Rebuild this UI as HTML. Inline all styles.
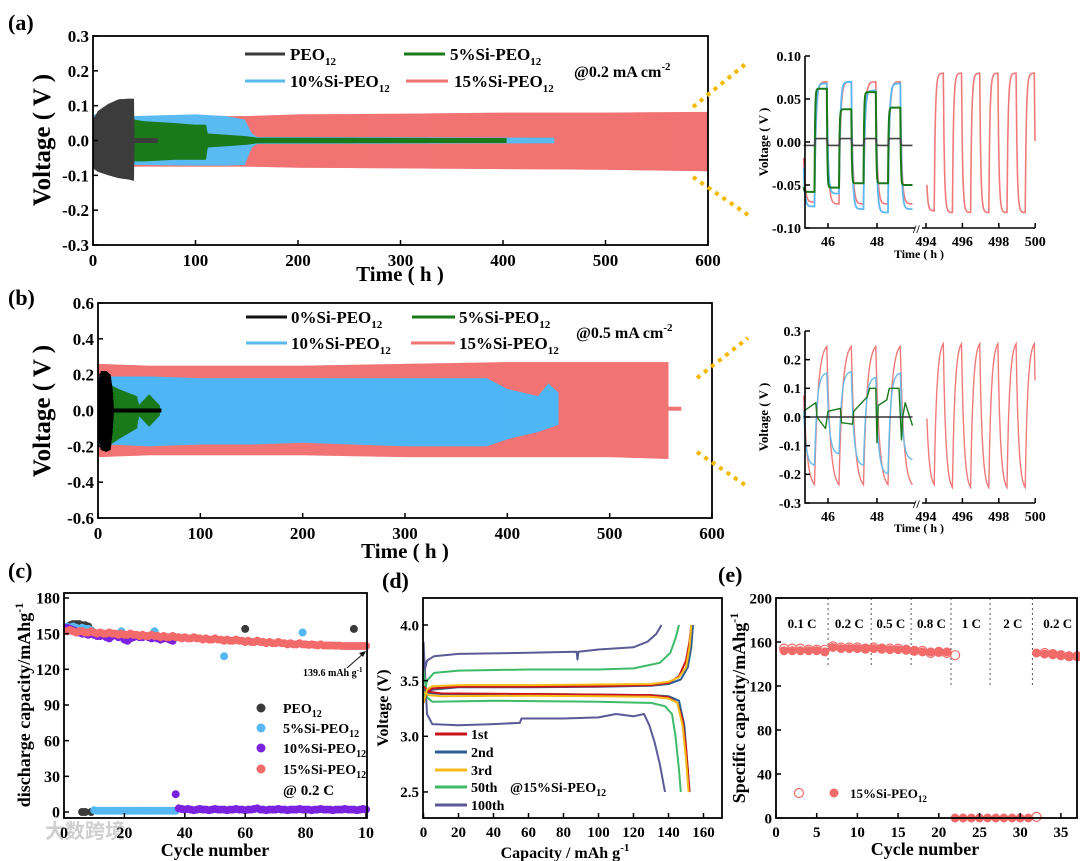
<!DOCTYPE html>
<html><head><meta charset="utf-8">
<style>
html,body{margin:0;padding:0;background:#fff;}
svg{display:block;font-family:"Liberation Serif","Noto Serif CJK SC",serif;font-weight:bold;}
</style></head>
<body>
<svg id="fig" width="1080" height="861" viewBox="0 0 1080 861" xmlns="http://www.w3.org/2000/svg">
<rect x="0" y="0" width="1080" height="861" fill="#fff"/>
<!-- panel labels -->
<text x="8" y="30" font-size="22">(a)</text>
<text x="8" y="305" font-size="22">(b)</text>
<text x="8" y="578" font-size="22">(c)</text>
<text x="382" y="588" font-size="22">(d)</text>
<text x="718" y="582" font-size="22">(e)</text>

<!-- axis titles -->
<text transform="translate(50,140) rotate(-90)" text-anchor="middle" font-size="25">Voltage ( V )</text>
<text x="400" y="281" text-anchor="middle" font-size="21">Time ( h )</text>
<text transform="translate(50,411) rotate(-90)" text-anchor="middle" font-size="25">Voltage ( V )</text>
<text x="405" y="558" text-anchor="middle" font-size="21">Time ( h )</text>
<text transform="translate(768,142) rotate(-90)" text-anchor="middle" font-size="13">Voltage ( V )</text>
<text x="919" y="258" text-anchor="middle" font-size="12">Time ( h )</text>
<text transform="translate(768,417) rotate(-90)" text-anchor="middle" font-size="13">Voltage ( V )</text>
<text x="919" y="532" text-anchor="middle" font-size="12">Time ( h )</text>
<text transform="translate(30,705) rotate(-90)" text-anchor="middle" font-size="18">discharge capacity/mAhg<tspan dy="-7" font-size="12">-1</tspan></text>
<text x="215" y="856" text-anchor="middle" font-size="18">Cycle number</text>
<text transform="translate(388,708) rotate(-90)" text-anchor="middle" font-size="16">Voltage (V)</text>
<text x="565" y="858" text-anchor="middle" font-size="16">Capacity / mAh g<tspan dy="-7" font-size="11">-1</tspan></text>
<text transform="translate(745,708) rotate(-90)" text-anchor="middle" font-size="18">Specific capacity/mAhg<tspan dy="-7" font-size="12">-1</tspan></text>
<text x="925" y="855" text-anchor="middle" font-size="18">Cycle number</text>

<text x="45" y="838" font-size="20" fill="#cfcfcf" font-family="'Noto Sans CJK SC',sans-serif">大数跨境</text>

<g id="plots"></g>

<!-- legends a -->
<g font-size="17">
<line x1="245" y1="54" x2="285" y2="54" stroke="#3a3a3a" stroke-width="3"/>
<text x="290" y="60">PEO<tspan dy="5" font-size="11">12</tspan></text>
<line x1="404" y1="54" x2="445" y2="54" stroke="#1a7a1a" stroke-width="3"/>
<text x="450" y="60">5%Si-PEO<tspan dy="5" font-size="11">12</tspan></text>
<line x1="245" y1="81" x2="285" y2="81" stroke="#5bb8f0" stroke-width="3"/>
<text x="290" y="87">10%Si-PEO<tspan dy="5" font-size="11">12</tspan></text>
<line x1="406" y1="81" x2="448" y2="81" stroke="#f07272" stroke-width="3"/>
<text x="454" y="87">15%Si-PEO<tspan dy="5" font-size="11">12</tspan></text>
<text x="574" y="77" font-size="16">@0.2 mA cm<tspan dy="-7" font-size="11">-2</tspan></text>
</g>
<g font-size="17">
<line x1="246" y1="317" x2="287" y2="317" stroke="#111" stroke-width="3"/>
<text x="291" y="323">0%Si-PEO<tspan dy="5" font-size="11">12</tspan></text>
<line x1="412" y1="317" x2="455" y2="317" stroke="#1a7a1a" stroke-width="3"/>
<text x="459" y="323">5%Si-PEO<tspan dy="5" font-size="11">12</tspan></text>
<line x1="246" y1="343" x2="287" y2="343" stroke="#5bb8f0" stroke-width="3"/>
<text x="291" y="349">10%Si-PEO<tspan dy="5" font-size="11">12</tspan></text>
<line x1="411" y1="343" x2="455" y2="343" stroke="#f07272" stroke-width="3"/>
<text x="459" y="349">15%Si-PEO<tspan dy="5" font-size="11">12</tspan></text>
<text x="576" y="338" font-size="16">@0.5 mA cm<tspan dy="-7" font-size="11">-2</tspan></text>
</g>
<!-- zoom connectors -->
<g stroke="#f5b800" stroke-width="4" stroke-dasharray="4 5">
<line x1="693" y1="107" x2="748" y2="62"/>
<line x1="693" y1="177" x2="748" y2="215"/>
<line x1="697" y1="378" x2="748" y2="338"/>
<line x1="697" y1="452" x2="748" y2="487"/>
</g>
<!-- legend c -->
<g font-size="14">
<circle cx="261" cy="708" r="4.5" fill="#3a3a3a"/>
<text x="283" y="713">PEO<tspan dy="4" font-size="10">12</tspan></text>
<circle cx="261" cy="728" r="4.5" fill="#55b8f2"/>
<text x="283" y="733">5%Si-PEO<tspan dy="4" font-size="10">12</tspan></text>
<circle cx="261" cy="748" r="4.5" fill="#7a22e0"/>
<text x="283" y="753">10%Si-PEO<tspan dy="4" font-size="10">12</tspan></text>
<circle cx="261" cy="769" r="4.5" fill="#f26a6a"/>
<text x="283" y="774">15%Si-PEO<tspan dy="4" font-size="10">12</tspan></text>
<text x="283" y="795" font-size="15">@ 0.2 C</text>
<text x="303" y="676" font-size="10">139.6 mAh g<tspan dy="-4" font-size="7">-1</tspan></text>
<line x1="347" y1="668" x2="364" y2="653" stroke="#111" stroke-width="1"/>
<path d="M366,651 L359,653 L363,657 Z" fill="#111"/>
</g>
<!-- legend d -->
<g font-size="14">
<line x1="435" y1="734" x2="467" y2="734" stroke="#c8141a" stroke-width="3"/>
<text x="471" y="739">1st</text>
<line x1="435" y1="752" x2="467" y2="752" stroke="#2d5f94" stroke-width="3"/>
<text x="471" y="757">2nd</text>
<line x1="435" y1="770" x2="467" y2="770" stroke="#f5bb18" stroke-width="3"/>
<text x="471" y="775">3rd</text>
<line x1="435" y1="787" x2="467" y2="787" stroke="#3dbb68" stroke-width="3"/>
<text x="471" y="792">50th</text>
<line x1="435" y1="805" x2="467" y2="805" stroke="#5a5a96" stroke-width="3"/>
<text x="471" y="810">100th</text>
<text x="510" y="792">@15%Si-PEO<tspan dy="4" font-size="10">12</tspan></text>
</g>
<!-- legend e -->
<g font-size="13">
<circle cx="799" cy="793" r="4.5" fill="none" stroke="#f26a6a" stroke-width="1.2"/>
<circle cx="834" cy="793" r="4.5" fill="#f26a6a"/>
<text x="850" y="798">15%Si-PEO<tspan dy="4" font-size="9">12</tspan></text>
</g>
</svg>
<script>
// ===== Panel (a) data =====
const aRedT=[0,100,150,200,300,400,500,600];
const aRedHi=[0.07,0.07,0.07,0.075,0.077,0.08,0.08,0.082];
const aRedLo=[-0.075,-0.075,-0.075,-0.078,-0.08,-0.082,-0.084,-0.088];
const aBlueT=[0,40,100,130,148,155,160,450];
const aBlueHi=[0.075,0.07,0.075,0.07,0.06,0.02,0.01,0.008];
const aBlueLo=[-0.075,-0.07,-0.072,-0.072,-0.07,-0.02,-0.01,-0.008];
const aGreenT=[40,50,80,100,110,112,150,160,403];
const aGreenHi=[0.06,0.055,0.05,0.045,0.045,0.02,0.012,0.008,0.007];
const aGreenLo=[-0.06,-0.06,-0.055,-0.055,-0.055,-0.02,-0.012,-0.008,-0.007];
const aBlackT=[0,5,15,25,35,39,40,40.5,63];
const aBlackHi=[0.06,0.085,0.105,0.118,0.12,0.12,0.12,0.007,0.007];
const aBlackLo=[-0.08,-0.09,-0.1,-0.108,-0.112,-0.115,-0.115,-0.007,-0.007];
const aXTicks=[0,100,200,300,400,500,600];
const aYTicks=[-0.3,-0.2,-0.1,0,0.1,0.2,0.3];
const aYLabels=['-0.3','-0.2','-0.1','0.0','0.1','0.2','0.3'];
// ===== Panel (b) data =====
const bRedT=[0,50,100,200,300,400,500,555,557];
const bRedHi=[0.26,0.25,0.25,0.25,0.26,0.27,0.27,0.27,0.27];
const bRedLo=[-0.26,-0.25,-0.25,-0.25,-0.26,-0.26,-0.26,-0.27,-0.27];
const bRedTailT=[557,570];
const bRedTailV=[0.01,0.01];
const bBlueT=[0,10,50,100,150,200,300,380,400,430,440,450];
const bBlueHi=[0.2,0.19,0.19,0.18,0.18,0.18,0.18,0.18,0.12,0.08,0.15,0.1];
const bBlueLo=[-0.2,-0.19,-0.2,-0.19,-0.19,-0.18,-0.2,-0.2,-0.16,-0.12,-0.1,-0.08];
const bGreenT=[5,10,20,38,40,50,60];
const bGreenHi=[0.15,0.15,0.12,0.08,0.03,0.09,0.03];
const bGreenLo=[-0.15,-0.2,-0.16,-0.1,-0.03,-0.09,-0.03];
const bBlackT=[0,3,8,12,14,15];
const bBlackHi=[0.15,0.22,0.22,0.2,0.12,0.03];
const bBlackLo=[-0.15,-0.22,-0.23,-0.22,-0.12,-0.03];
const bBlackTailT=[15,62];
const bBlackTailV=[0,0];
const bXTicks=[0,100,200,300,400,500,600];
const bYTicks=[-0.6,-0.4,-0.2,0,0.2,0.4,0.6];
const bYLabels=['-0.6','-0.4','-0.2','0.0','0.2','0.4','0.6'];
// ===== Insets: half-cycle peak voltages (half period 0.5 h) =====
const insStart=44.95;
const insStartR=493.95;
const iaRed=[-0.07,0.07,-0.072,0.07,-0.072,0.07,-0.072,0.07,-0.072,0.07];
const iaBlue=[-0.075,0.068,-0.06,0.07,-0.078,0.06,-0.082,0.068,-0.078,0.07];
const iaGreen=[-0.058,0.062,-0.053,0.038,-0.048,0.058,-0.048,0.04,-0.05,0.056];
const iaBlack=[-0.004,0.004,-0.004,0.004,-0.004,0.004,-0.004,0.004,-0.004,0.004];
const iaRedR=[-0.08,0.08,-0.082,0.08,-0.082,0.08,-0.082,0.08,-0.082,0.08,-0.082,0.08,-0.082];
const ibRed=[-0.25,0.26,-0.25,0.26,-0.25,0.26,-0.25,0.26,-0.25,0.26];
const ibBlue=[-0.17,0.155,-0.13,0.16,-0.17,0.14,-0.2,0.155,-0.15,0.165];
const ibRedR=[-0.25,0.27,-0.26,0.27,-0.26,0.27,-0.26,0.27,-0.26,0.27,-0.26,0.27,-0.26];
const ibGreenT=[45,45.5,45.55,45.9,46.0,46.5,46.55,47,47.05,47.6,47.7,47.95,48.0,48.05,48.4,48.5,48.9,49.0,49.05,49.15,49.45];
const ibGreenV=[0.02,0.05,0.0,-0.04,0.02,0.03,-0.02,-0.025,0.02,0.07,0.1,0.1,-0.09,0.04,0.06,0.1,0.1,-0.08,0.0,0.05,-0.03];
const ibBlackT=[45,49.45];
const ibBlackV=[0,0];
const insXTicksL=[46,48];
const insXTicksR=[494,496,498,500];
const iaYTicks=[-0.1,-0.05,0,0.05,0.1];
const iaYLabels=['-0.10','-0.05','0.00','0.05','0.10'];
const ibYTicks=[-0.3,-0.2,-0.1,0,0.1,0.2,0.3];
const ibYLabels=['-0.3','-0.2','-0.1','0.0','0.1','0.2','0.3'];
// ===== Panel (c) data =====
const cRed=[152,153,152,151,152,152,151,151,152,151,150,151,150,150,151,150,150,149,150,149,149,150,149,149,148,149,148,148,149,148,148,147,148,147,147,148,147,147,146,147,146,146,147,146,146,145,146,145,145,146,145,145,144,145,144,144,145,144,144,143,144,143,143,144,143,143,142,143,142,142,143,142,142,141,142,141,141,142,141,141,140.5,141,140.5,140,141,140,140,140,140,139.8,140,139.6,139.6,139.6,139.6,139.6,139.6,139.6,139.6,139.6];
const cPurpleHi=[155,154,153,152,151,150,150,149,150,149,148,148,149,147,146,148,149,147,148,145,144,146,147,148,147,147,148,147,146,147,146,145,146,146,145,144];
const cPurpleLow=[15,3,2.5,2,2.5,2,1.5,2,2.5,2,2,1.5,2,2.5,2,2,2,1.5,2,2,2.5,2,2,1.5,2,2,2.5,3,2,2,1.5,2,2,2,2.5,2,2,1.5,2,2,2,2.5,2,2,2,1.5,2,2,2.5,2,2,2,1.5,2,2,2,2.5,2,2,2,1.5,2,2.5,2];
const cBlueN=[1,2,3,4,5,6,7,8,9,19,30,53,79];
const cBlueV=[156,155,156,155,154,155,154,154,153,152,152,131,151];
const cBlueLow=[1.5,1,1,1,1,1,1,1,1,1,1,1,1,1,1,1,1,1,1,1,1,1,1,1,1,1,1,1];
const cBlackN=[2,3,4,5,6,7,8,60,96,6,7,9];
const cBlackV=[157,158,158,158,157,157,156,154,154,0,0,0];
const cXTicks=[0,20,40,60,80,100];
const cXLabels=['0','20','40','60','80','10'];
const cYTicks=[0,30,60,90,120,150,180];
// ===== Panel (d) data =====
const d1cC=[0,2,5,20,60,100,130,140,146,150,152,153];
const d1cV=[3.3,3.4,3.43,3.445,3.445,3.45,3.46,3.48,3.54,3.68,3.85,4.0];
const d1dC=[0,3,10,60,100,130,140,145,148,150,151,152];
const d1dV=[3.45,3.4,3.385,3.38,3.375,3.37,3.35,3.3,3.15,2.9,2.7,2.5];
const d2cC=[0,2,5,20,60,100,130,140,147,151,153,154];
const d2cV=[3.3,3.39,3.42,3.44,3.44,3.445,3.455,3.47,3.51,3.62,3.8,4.0];
const d2dC=[0,3,10,60,100,130,140,146,149,151,152];
const d2dV=[3.42,3.39,3.38,3.38,3.375,3.37,3.36,3.32,3.1,2.7,2.5];
const d3cC=[0,2,5,20,60,100,130,140,146,150,152,153];
const d3cV=[3.3,3.42,3.45,3.46,3.46,3.465,3.47,3.49,3.53,3.62,3.8,4.0];
const d3dC=[0,3,10,60,100,130,140,145,148,150,151.5];
const d3dV=[3.4,3.37,3.36,3.365,3.36,3.355,3.34,3.3,3.1,2.8,2.5];
const d50cC=[0,2,6,20,60,100,120,135,141,144,146];
const d50cV=[3.35,3.5,3.57,3.59,3.6,3.6,3.61,3.66,3.75,3.88,4.0];
const d50dC=[0,2,5,40,100,130,138,142,144,146,147];
const d50dV=[3.6,3.35,3.31,3.32,3.31,3.3,3.27,3.2,3.0,2.7,2.5];
const d100cC=[0,2,6,20,60,87.5,88,88.5,100,120,128,133,136];
const d100cV=[3.55,3.68,3.72,3.74,3.75,3.76,3.69,3.76,3.78,3.8,3.85,3.92,4.0];
const d100dC=[0,2,5,20,40,55,56,80,100,110,120,126,129,132,135,138];
const d100dV=[3.85,3.2,3.11,3.1,3.11,3.12,3.16,3.16,3.17,3.2,3.18,3.2,3.1,2.95,2.75,2.5];
const dXTicks=[0,20,40,60,80,100,120,140,160];
const dYTicks=[2.5,3.0,3.5,4.0];
const dYLabels=['2.5','3.0','3.5','4.0'];
// ===== Panel (e) data =====
const eFilledN=[1,2,3,4,5,6,7,8,9,10,11,12,13,14,15,16,17,18,19,20,21,22,23,24,25,26,27,28,29,30,31,32,33,34,35,36,37];
const eFilledV=[152,152,152,152,152,151,155,154,154,154,154,154,154,153,153,153,152,151,151,151,151,0,0,0,0,0,0,0,0,0,0,150,149,149,148,147.5,147];
const eOpenN=[1,2,3,4,5,6,7,8,9,10,11,12,13,14,15,16,17,18,19,20,21,22,32,33,34,35,36,37];
const eOpenV=[154,154,154,153,153,153,156,155,155,155,154,155,154,154,154,153,152,152,150,151,150,148,1,150,149,148,147,147];
const eRateX=[6.4,11.7,16.6,21.5,26.3,31.5];
const eRateBottom=[137,137,137,119,119,119];
const eRateLabels=['0.1 C','0.2 C','0.5 C','0.8 C','1 C','2 C','0.2 C'];
const eRateLabelX=[3.2,9.0,14.1,19.1,24.0,29.1,34.6];
const eXTicks=[0,5,10,15,20,25,30,35];
const eYTicks=[0,40,80,120,160,200];

// ===== scales =====
const xa=t=>93+t*(708-93)/600, ya=v=>140.5-v*(245-36)/0.6;
const xb=t=>98+t*(712-98)/600, yb=v=>410.5-v*(518-303)/1.2;
const xiL=t=>803.5+(t-45)*24.5, xiR=t=>926+(t-494)*18.2;
const yia=v=>142-v*860, yib=v=>417-v*286.7;
const xc=n=>64+n*3.02, yc=v=>812-v*1.189;
const xd=c=>423.5+c*1.75, yd=v=>625+(4.0-v)*111.3;
const xe=n=>776+n*8.14, ye=v=>818-v*1.1;

const NS='http://www.w3.org/2000/svg';
const root=document.getElementById('plots');
function add(parent,tag,attrs){const e=document.createElementNS(NS,tag);for(const k in attrs)e.setAttribute(k,attrs[k]);parent.appendChild(e);return e;}
function interp(T,V,t){if(t<=T[0])return V[0];for(let i=1;i<T.length;i++){if(t<=T[i]){const f=(t-T[i-1])/(T[i]-T[i-1]);return V[i-1]+f*(V[i]-V[i-1]);}}return V[V.length-1];}
function band(g,name,T,Hi,Lo,xf,yf,color){
  let p=[];for(let i=0;i<T.length;i++)p.push(xf(T[i]).toFixed(1)+','+yf(Hi[i]).toFixed(1));
  for(let i=T.length-1;i>=0;i--)p.push(xf(T[i]).toFixed(1)+','+yf(Lo[i]).toFixed(1));
  const e=add(g,'polygon',{points:p.join(' '),fill:color});
  
  
  // texture lines
  const step=(T[T.length-1]-T[0])/Math.max(40,Math.round((xf(T[T.length-1])-xf(T[0]))/2));
  let d='';for(let t=T[0];t<=T[T.length-1];t+=step){d+='M'+xf(t).toFixed(1)+','+yf(interp(T,Hi,t)).toFixed(1)+'V'+yf(interp(T,Lo,t)).toFixed(1);}
  const l=add(g,'path',{d:d,stroke:color,'stroke-width':1});
  
  
}
function line(g,name,X,Y,xf,yf,color,w){
  const pts=X.map((x,i)=>xf(x).toFixed(1)+','+yf(Y[i]).toFixed(1)).join(' ');
  const e=add(g,'polyline',{points:pts,fill:'none',stroke:color,'stroke-width':w,'stroke-linejoin':'round'});
  
  
}
function wave(g,name,peaks,t0,tmin,tmax,tau,xf,yf,color,w){
  let pts=[];let prev=-peaks[0];
  for(let i=0;i<peaks.length;i++){const ts=t0+i*0.5;const pk=peaks[i];let last=prev;
    for(let k=0;k<=25;k++){const t=ts+k*0.02;const v=pk+(prev-pk)*Math.exp(-(t-ts)/tau);last=v;
      if(t>=tmin&&t<=tmax)pts.push(xf(t).toFixed(1)+','+yf(v).toFixed(1));}
    prev=last;}
  const e=add(g,'polyline',{points:pts.join(' '),fill:'none',stroke:color,'stroke-width':w});
  
  
}
function xticks(g,name,vals,labels,xf,y0,size,dir){
  vals.forEach((v,i)=>{const x=xf(v);
    const t=add(g,'line',{x1:x,y1:y0,x2:x,y2:y0+dir*5,stroke:'#000','stroke-width':1.5});
    
    
    const tx=add(g,'text',{x:x,y:y0+size+4,'text-anchor':'middle','font-size':size});
    tx.textContent=labels[i];
    
    });
}
function yticks(g,name,vals,labels,yf,x0,size,dir){
  vals.forEach((v,i)=>{const y=yf(v);
    const t=add(g,'line',{x1:x0,y1:y,x2:x0+dir*5,y2:y,stroke:'#000','stroke-width':1.5});
    
    
    const tx=add(g,'text',{x:x0-4,y:y+size*0.35,'text-anchor':'end','font-size':size});
    tx.textContent=labels[i];
    
    });
}
function frame(g,name,x1,y1,x2,y2){
  const r=add(g,'rect',{x:x1,y:y1,width:x2-x1,height:y2-y1,fill:'none',stroke:'#000','stroke-width':1.8});
  
  
}
function dots(g,name,N,V,xf,yf,color,r,open){
  N.forEach((n,i)=>{const c=add(g,'circle',{cx:xf(n).toFixed(1),cy:yf(V[i]).toFixed(1),r:r,fill:open?'none':color,stroke:color,'stroke-width':open?1.2:0});
    
    });
}
const seq=(a,n)=>Array.from({length:n},(_,i)=>a+i);

// ===== Panel (a) =====
const gA=add(root,'g',{});


band(gA,'a-series-15pct',aRedT,aRedHi,aRedLo,xa,ya,'#f27373');
band(gA,'a-series-10pct',aBlueT,aBlueHi,aBlueLo,xa,ya,'#5bbaf2');
band(gA,'a-series-5pct',aGreenT,aGreenHi,aGreenLo,xa,ya,'#1a7a1a');
band(gA,'a-series-peo',aBlackT,aBlackHi,aBlackLo,xa,ya,'#3c3c3c');
frame(gA,'a-plot-frame',93,36,708,245);
xticks(gA,'a-x-tick',aXTicks,aXTicks.map(String),xa,245,17,-1);
yticks(gA,'a-y-tick',aYTicks,aYLabels,ya,93,17,1);

// ===== Panel (b) =====
const gB=add(root,'g',{});


band(gB,'b-series-15pct',bRedT,bRedHi,bRedLo,xb,yb,'#f27373');
line(gB,'b-series-15pct-tail',bRedTailT,bRedTailV,xb,yb,'#f27373',4);
band(gB,'b-series-10pct',bBlueT,bBlueHi,bBlueLo,xb,yb,'#4fb6f6');
band(gB,'b-series-5pct',bGreenT,bGreenHi,bGreenLo,xb,yb,'#1a7a1a');
band(gB,'b-series-0pct',bBlackT,bBlackHi,bBlackLo,xb,yb,'#000');
line(gB,'b-series-0pct-tail',bBlackTailT,bBlackTailV,xb,yb,'#000',4);
frame(gB,'b-plot-frame',98,303,712,518);
xticks(gB,'b-x-tick',bXTicks,bXTicks.map(String),xb,518,17,-1);
yticks(gB,'b-y-tick',bYTicks,bYLabels,yb,98,17,1);

// ===== Inset (a) =====
const gIA=add(root,'g',{});


wave(gIA,'inset-a-red-left',iaRed,insStart,45,49.45,0.06,xiL,yia,'#f07a7a',1.6);
wave(gIA,'inset-a-blue',iaBlue,insStart,45,49.45,0.05,xiL,yia,'#5bb8f0',1.8);
wave(gIA,'inset-a-green',iaGreen,insStart,45,49.45,0.02,xiL,yia,'#1a7a1a',2);
wave(gIA,'inset-a-black',iaBlack,insStart,45,49.45,0.02,xiL,yia,'#444',1.6);
wave(gIA,'inset-a-red-right',iaRedR,insStartR,494.05,500,0.06,xiR,yia,'#f07a7a',1.6);
line(gIA,'inset-a-y-axis',[0.1,-0.1],[0,0],v=>805,v=>0,'#000',0);
const iaAx=add(gIA,'path',{d:'M805,56 V228 H915 M922,228 H1035',stroke:'#000','stroke-width':1.6,fill:'none'});


const iaBr=add(gIA,'text',{x:913,y:233,'font-size':12});
iaBr.textContent='//';


xticks(gIA,'inset-a-x-tick',insXTicksL,insXTicksL.map(String),xiL,228,14,-1);
xticks(gIA,'inset-a-x-tick',insXTicksR,insXTicksR.map(String),xiR,228,14,-1);
yticks(gIA,'inset-a-y-tick',iaYTicks,iaYLabels,yia,805,14,1);

// ===== Inset (b) =====
const gIB=add(root,'g',{});


wave(gIB,'inset-b-red-left',ibRed,insStart,45,49.45,0.14,xiL,yib,'#f07a7a',1.4);
wave(gIB,'inset-b-blue',ibBlue,insStart,45,49.45,0.1,xiL,yib,'#6abbe8',1.4);
line(gIB,'inset-b-green',ibGreenT,ibGreenV,xiL,yib,'#1a7a1a',1.4);
line(gIB,'inset-b-black',ibBlackT,ibBlackV,xiL,yib,'#333',1.4);
wave(gIB,'inset-b-red-right',ibRedR,insStartR,494.05,500,0.14,xiR,yib,'#f07a7a',1.4);
const ibAx=add(gIB,'path',{d:'M805,331 V503 H915 M922,503 H1035',stroke:'#000','stroke-width':1.6,fill:'none'});


const ibBr=add(gIB,'text',{x:913,y:508,'font-size':12});
ibBr.textContent='//';


xticks(gIB,'inset-b-x-tick',insXTicksL,insXTicksL.map(String),xiL,503,14,-1);
xticks(gIB,'inset-b-x-tick',insXTicksR,insXTicksR.map(String),xiR,503,14,-1);
yticks(gIB,'inset-b-y-tick',ibYTicks,ibYLabels,yib,805,14,1);

// ===== Panel (c) =====
const gC=add(root,'g',{});


dots(gC,'c-point-peo',cBlackN,cBlackV,xc,yc,'#3a3a3a',4);
dots(gC,'c-point-5pct',cBlueN,cBlueV,xc,yc,'#55b8f2',4);
dots(gC,'c-point-5pct-low',seq(10,cBlueLow.length),cBlueLow,xc,yc,'#55b8f2',4);
dots(gC,'c-point-10pct',seq(1,cPurpleHi.length),cPurpleHi,xc,yc,'#7a22e0',4);
dots(gC,'c-point-10pct-low',seq(37,cPurpleLow.length),cPurpleLow,xc,yc,'#7a22e0',4);
dots(gC,'c-point-15pct',seq(1,cRed.length),cRed,xc,yc,'#f26a6a',4);
frame(gC,'c-plot-frame',64,593,367,818);
xticks(gC,'c-x-tick',cXTicks,cXLabels,xc,818,16,-1);
yticks(gC,'c-y-tick',cYTicks,cYTicks.map(String),yc,64,16,1);

// ===== Panel (d) =====
const gD=add(root,'g',{});


line(gD,'d-curve-100th-charge',d100cC,d100cV,xd,yd,'#5a5a96',2);
line(gD,'d-curve-100th-discharge',d100dC,d100dV,xd,yd,'#5a5a96',2);
line(gD,'d-curve-50th-charge',d50cC,d50cV,xd,yd,'#3dbb68',2);
line(gD,'d-curve-50th-discharge',d50dC,d50dV,xd,yd,'#3dbb68',2);
line(gD,'d-curve-2nd-charge',d2cC,d2cV,xd,yd,'#2d5f94',2);
line(gD,'d-curve-2nd-discharge',d2dC,d2dV,xd,yd,'#2d5f94',2);
line(gD,'d-curve-1st-charge',d1cC,d1cV,xd,yd,'#c8141a',2);
line(gD,'d-curve-1st-discharge',d1dC,d1dV,xd,yd,'#c8141a',2);
line(gD,'d-curve-3rd-charge',d3cC,d3cV,xd,yd,'#f5bb18',2);
line(gD,'d-curve-3rd-discharge',d3dC,d3dV,xd,yd,'#f5bb18',2);
frame(gD,'d-plot-frame',423,598,722,818);
xticks(gD,'d-x-tick',dXTicks,dXTicks.map(String),xd,818,15,-1);
yticks(gD,'d-y-tick',dYTicks,dYLabels,yd,423,15,1);

// ===== Panel (e) =====
const gE=add(root,'g',{});


eRateX.forEach((n,i)=>{
  const l=add(gE,'line',{x1:xe(n),y1:598,x2:xe(n),y2:ye(eRateBottom[i]),stroke:'#555','stroke-width':1,'stroke-dasharray':'2 3'});
  
  
});
eRateLabels.forEach((s,i)=>{
  const t=add(gE,'text',{x:xe(eRateLabelX[i]),y:628,'text-anchor':'middle','font-size':13});
  t.textContent=s;
  
  
});
dots(gE,'e-point-open',eOpenN,eOpenV,xe,ye,'#f26a6a',4.5,true);
dots(gE,'e-point-filled',eFilledN,eFilledV,xe,ye,'#f26a6a',4.5,false);
frame(gE,'e-plot-frame',776,598,1077,818);
xticks(gE,'e-x-tick',eXTicks,eXTicks.map(String),xe,818,15,-1);
yticks(gE,'e-y-tick',eYTicks,eYTicks.map(String),ye,776,15,1);
</script>
</body></html>
